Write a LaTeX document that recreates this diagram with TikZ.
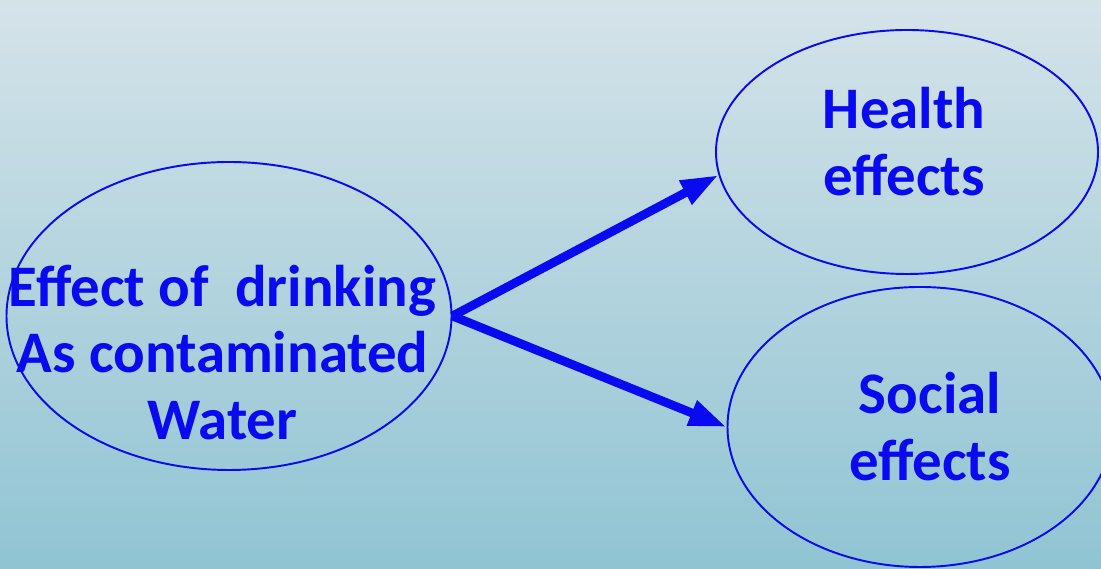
\documentclass[tikz,border=0pt]{standalone}
\usepackage{fontspec}
\setmainfont{Carlito}
\usepackage{xcolor}
\usetikzlibrary{arrows.meta, positioning, shapes.geometric}
\definecolor{bg_top}{RGB}{213, 227, 233}
\definecolor{bg_bot}{RGB}{144, 196, 211}
\definecolor{ell_blue}{RGB}{10, 10, 240}

\begin{document}
\begin{tikzpicture}[
        ell/.style={ellipse, draw=ell_blue, line width=1.1pt, inner sep=0pt},
        txt/.style={text=ell_blue, font=\fontsize{33.5}{38}\selectfont\bfseries,
                    align=center, inner sep=0pt},
        arr/.style={-{Triangle[length=0.75cm, width=0.5cm]}, ell_blue,
                    line width=5pt},
      ]
        \shade[top color=bg_top, bottom color=bg_bot] (0,0) rectangle (22.02,11.38);
        \useasboundingbox (0,0) rectangle (22.02,11.38);

        \node[ell, minimum width=8.9cm, minimum height=6.16cm] (cause) at (4.58, 5.06) {};
        \node[ell, minimum width=7.64cm, minimum height=4.88cm] (hlth) at (18.14, 8.34) {};
        \node[ell, minimum width=7.7cm, minimum height=5.6cm] (soc) at (18.4, 2.84) {};

        \node[txt] (causetxt) at (4.45, 4.33) {Effect of~ drinking\\As contaminated\\Water};
        \node[txt] (hlthtxt) at (18.08, 8.55) {Health\\effects};
        \node[txt] (soctxt) at (18.6, 2.85) {Social\\effects};

        \draw[arr] (cause.east) -- (hlth.187);
        \draw[arr] (cause.east) -- (soc.west);
      \end{tikzpicture}
\end{document}
